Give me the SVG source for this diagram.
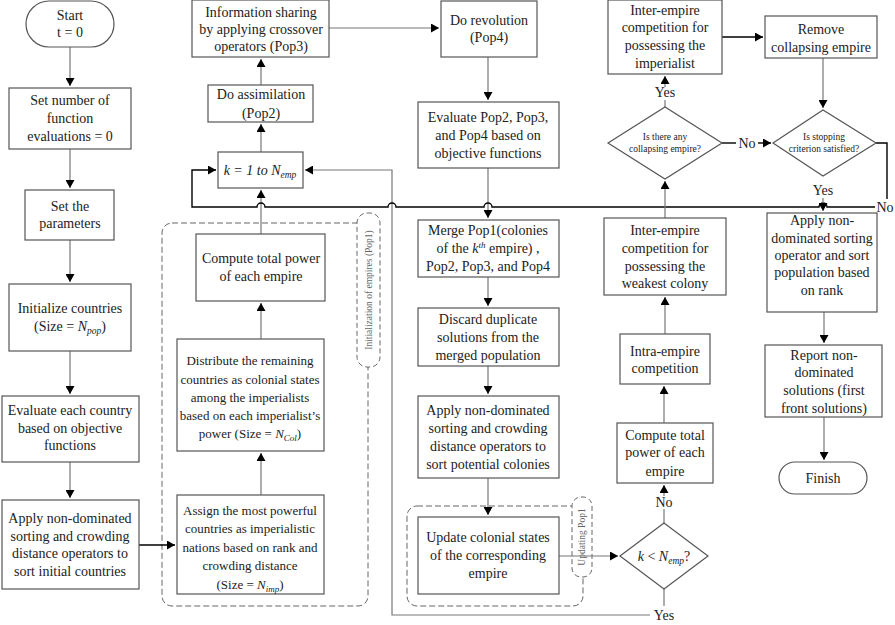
<svg xmlns="http://www.w3.org/2000/svg" width="895" height="625" viewBox="0 0 895 625" font-family="'Liberation Serif', 'Times New Roman', serif">
<defs>
<marker id="ah" markerWidth="9" markerHeight="9" refX="8" refY="4.5" orient="auto" markerUnits="userSpaceOnUse"><path d="M0,0 L8,4.5 L0,9 z" fill="#000"/></marker>
<style>
.b{fill:#fff;stroke:#555;stroke-width:1.2}
text{font-family:'Liberation Serif','Times New Roman',serif}
.t{font-size:14px;text-anchor:middle;fill:#222}
.m{font-size:13px;text-anchor:middle;fill:#222}
.s{font-size:9.5px;text-anchor:middle;fill:#222}
.l{font-size:9.5px;text-anchor:middle;fill:#666}
.c{fill:none;stroke:#777;stroke-width:1.2}
.k{fill:none;stroke:#000;stroke-width:1.4}
.d{fill:none;stroke:#666;stroke-width:1;stroke-dasharray:6,3}
.dl{fill:#fff;stroke:#666;stroke-width:1;stroke-dasharray:5,3}
</style>
</defs>
<rect width="895" height="625" fill="#fff"/>

<g id="groups">
<rect class="d" x="162" y="223" width="206" height="383" rx="10"/>
<rect class="dl" x="357" y="213" width="23" height="154" rx="10"/>
<text class="l" transform="translate(372,290) rotate(-90)">Initialization of empires (Pop1)</text>
<rect class="d" x="407" y="506" width="176" height="100" rx="10"/>
<rect class="dl" x="572" y="497" width="20" height="80" rx="9"/>
<text class="l" transform="translate(585,537) rotate(-90)">Updating Pop1</text>
</g>

<g id="connectors">
<path class="c" d="M70,47 V86" marker-end="url(#ah)"/>
<path class="c" d="M70,149 V188" marker-end="url(#ah)"/>
<path class="c" d="M70,240 V282" marker-end="url(#ah)"/>
<path class="c" d="M70,351 V394" marker-end="url(#ah)"/>
<path class="c" d="M70,462 V498" marker-end="url(#ah)"/>
<path class="k" d="M139,545 H175" marker-end="url(#ah)"/>
<path class="c" d="M261,495 V453" marker-end="url(#ah)"/>
<path class="c" d="M261,339 V303" marker-end="url(#ah)"/>
<path class="c" d="M261,234 V190" marker-end="url(#ah)"/>
<path class="c" d="M261,152 V124" marker-end="url(#ah)"/>
<path class="c" d="M261,85 V59" marker-end="url(#ah)"/>
<path class="c" d="M329,28 H439" marker-end="url(#ah)"/>
<path class="c" d="M488,57 V100" marker-end="url(#ah)"/>
<path class="c" d="M488,168 V218" marker-end="url(#ah)"/>
<path class="c" d="M488,277 V306" marker-end="url(#ah)"/>
<path class="c" d="M488,366 V394" marker-end="url(#ah)"/>
<path class="c" d="M488,478 V515" marker-end="url(#ah)"/>
<path class="c" d="M559,556 H618" marker-end="url(#ah)"/>
<path class="c" d="M664,589 V606"/>
<path class="c" d="M650,615 H392 V170 H305" marker-end="url(#ah)"/>
<path class="c" d="M664,523 V509"/>
<path class="c" d="M664,496 V485" marker-end="url(#ah)"/>
<path class="c" d="M664,423 V386" marker-end="url(#ah)"/>
<path class="c" d="M665,334 V297" marker-end="url(#ah)"/>
<path class="k" d="M875,207 H827 A4,4 0 0 0 819,207 H492 A4,4 0 0 0 484,207 H396 A4,4 0 0 0 388,207 H265 A4,4 0 0 0 257,207 H192 V170 H216" marker-end="url(#ah)"/>
<path class="c" d="M665,218 V181" marker-end="url(#ah)"/>
<path class="c" d="M665,107 V100"/>
<path class="c" d="M665,87 V76" marker-end="url(#ah)"/>
<path class="k" d="M722,37 H763" marker-end="url(#ah)"/>
<path class="k" d="M722,143 H736"/>
<path class="k" d="M758,143 H771" marker-end="url(#ah)"/>
<path class="c" d="M823,58 V108" marker-end="url(#ah)"/>
<path class="k" d="M876,143 H887 V199"/>
<path class="c" d="M823,198 V211" marker-end="url(#ah)"/>
<path class="c" d="M824,312 V343" marker-end="url(#ah)"/>
<path class="c" d="M824,417 V460" marker-end="url(#ah)"/>
</g>

<g id="start">
<rect class="b" x="26" y="1" width="88" height="46" rx="23"/>
<text class="t" x="70" y="20">Start</text>
<text class="t" x="70" y="37">t = 0</text>
</g>
<g id="set-fe">
<rect class="b" x="9" y="88" width="122" height="61"/>
<text class="t" x="70" y="105">Set number of</text>
<text class="t" x="70" y="123">function</text>
<text class="t" x="70" y="141">evaluations = 0</text>
</g>
<g id="set-params">
<rect class="b" x="25" y="190" width="89" height="50"/>
<text class="t" x="70" y="211">Set the</text>
<text class="t" x="70" y="228">parameters</text>
</g>
<g id="init-countries">
<rect class="b" x="9" y="284" width="122" height="67"/>
<text class="t" x="70" y="313">Initialize countries</text>
<text class="t" x="70" y="331">(Size = <tspan font-style="italic">N</tspan><tspan font-style="italic" font-size="9.5" dy="3">pop</tspan><tspan dy="-3">)</tspan></text>
</g>
<g id="evaluate-countries">
<rect class="b" x="2" y="396" width="137" height="66"/>
<text class="t" x="70" y="415">Evaluate each country</text>
<text class="t" x="70" y="433">based on objective</text>
<text class="t" x="70" y="450">functions</text>
</g>
<g id="sort-initial">
<rect class="b" x="2" y="500" width="137" height="89"/>
<text class="t" x="70" y="523">Apply non-dominated</text>
<text class="t" x="70" y="541">sorting and crowding</text>
<text class="t" x="70" y="558">distance operators to</text>
<text class="t" x="70" y="576">sort initial countries</text>
</g>

<g id="assign-imperialists">
<rect class="b" x="177" y="495" width="147" height="99"/>
<text class="m" x="250" y="515">Assign the most powerful</text>
<text class="m" x="250" y="533">countries as imperialistic</text>
<text class="m" x="250" y="552">nations based on rank and</text>
<text class="m" x="250" y="570">crowding distance</text>
<text class="m" x="250" y="589">(Size = <tspan font-style="italic">N</tspan><tspan font-style="italic" font-size="9" dy="3">imp</tspan><tspan dy="-3">)</tspan></text>
</g>
<g id="distribute">
<rect class="b" x="177" y="339" width="147" height="112"/>
<text class="m" x="250" y="365">Distribute the remaining</text>
<text class="m" x="250" y="384">countries as colonial states</text>
<text class="m" x="250" y="402">among the imperialists</text>
<text class="m" x="250" y="420">based on each imperialist’s</text>
<text class="m" x="250" y="438">power (Size = <tspan font-style="italic">N</tspan><tspan font-style="italic" font-size="9" dy="3">Col</tspan><tspan dy="-3">)</tspan></text>
</g>
<g id="compute-power-1">
<rect class="b" x="196" y="234" width="129" height="67"/>
<text class="t" x="261" y="263">Compute total power</text>
<text class="t" x="261" y="281">of each empire</text>
</g>
<g id="k-loop">
<rect class="b" x="218" y="152" width="85" height="36"/>
<text class="t" x="260" y="175" font-style="italic">k = 1 to N<tspan font-size="9.5" dy="3">emp</tspan></text>
</g>
<g id="assimilation">
<rect class="b" x="208" y="85" width="105" height="37"/>
<text class="t" x="261" y="99">Do assimilation</text>
<text class="t" x="261" y="118">(Pop2)</text>
</g>
<g id="info-sharing">
<rect class="b" x="192" y="0" width="137" height="57"/>
<text class="t" x="261" y="17">Information sharing</text>
<text class="t" x="261" y="34">by applying crossover</text>
<text class="t" x="261" y="51">operators (Pop3)</text>
</g>

<g id="revolution">
<rect class="b" x="441" y="1" width="96" height="56"/>
<text class="t" x="489" y="25">Do revolution</text>
<text class="t" x="489" y="42">(Pop4)</text>
</g>
<g id="evaluate-pops">
<rect class="b" x="418" y="102" width="141" height="66"/>
<text class="t" x="488" y="122">Evaluate Pop2, Pop3,</text>
<text class="t" x="488" y="140">and Pop4 based on</text>
<text class="t" x="488" y="158">objective functions</text>
</g>
<g id="merge">
<rect class="b" x="418" y="220" width="141" height="57"/>
<text class="t" x="488" y="235">Merge Pop1(colonies</text>
<text class="t" x="488" y="253">of the <tspan font-style="italic">k</tspan><tspan font-style="italic" font-size="9" dy="-5">th</tspan><tspan dy="5"> empire) ,</tspan></text>
<text class="t" x="488" y="271">Pop2, Pop3, and Pop4</text>
</g>
<g id="discard">
<rect class="b" x="418" y="308" width="141" height="58"/>
<text class="t" x="488" y="324">Discard duplicate</text>
<text class="t" x="488" y="342">solutions from the</text>
<text class="t" x="488" y="360">merged population</text>
</g>
<g id="sort-colonies">
<rect class="b" x="418" y="396" width="141" height="82"/>
<text class="t" x="488" y="415">Apply non-dominated</text>
<text class="t" x="488" y="433">sorting and crowding</text>
<text class="t" x="488" y="451">distance operators to</text>
<text class="t" x="488" y="469">sort potential colonies</text>
</g>
<g id="update-colonial">
<rect class="b" x="418" y="517" width="141" height="77"/>
<text class="t" x="488" y="542">Update colonial states</text>
<text class="t" x="488" y="560">of the corresponding</text>
<text class="t" x="488" y="578">empire</text>
</g>

<g id="k-check">
<polygon class="b" points="620,556 664,523 708,556 664,589"/>
<text class="t" x="664" y="561"><tspan font-style="italic">k</tspan> &lt; <tspan font-style="italic">N</tspan><tspan font-style="italic" font-size="9.5" dy="3">emp</tspan><tspan dy="-3">?</tspan></text>
<text class="t" x="664" y="620">Yes</text>
<text class="t" x="664" y="507">No</text>
</g>
<g id="compute-power-2">
<rect class="b" x="617" y="423" width="96" height="60"/>
<text class="t" x="665" y="440">Compute total</text>
<text class="t" x="665" y="457">power of each</text>
<text class="t" x="665" y="476">empire</text>
</g>
<g id="intra-empire">
<rect class="b" x="620" y="334" width="90" height="50"/>
<text class="t" x="665" y="356">Intra-empire</text>
<text class="t" x="665" y="373">competition</text>
</g>
<g id="inter-weakest">
<rect class="b" x="604" y="218" width="122" height="77"/>
<text class="t" x="665" y="235">Inter-empire</text>
<text class="t" x="665" y="253">competition for</text>
<text class="t" x="665" y="271">possessing the</text>
<text class="t" x="665" y="288">weakest colony</text>
</g>
<g id="collapsing-check">
<polygon class="b" points="608,143 665,107 722,143 665,179"/>
<text class="s" x="665" y="140">Is there any</text>
<text class="s" x="665" y="152">collapsing empire?</text>
<text class="t" x="665" y="97">Yes</text>
<text class="t" x="747" y="148">No</text>
</g>
<g id="inter-imperialist">
<rect class="b" x="608" y="0" width="114" height="74"/>
<text class="t" x="665" y="15">Inter-empire</text>
<text class="t" x="665" y="32">competition for</text>
<text class="t" x="665" y="50">possessing the</text>
<text class="t" x="665" y="68">imperialist</text>
</g>
<g id="remove">
<rect class="b" x="765" y="16" width="112" height="42"/>
<text class="t" x="821" y="34">Remove</text>
<text class="t" x="821" y="52">collapsing empire</text>
</g>
<g id="stop-check">
<polygon class="b" points="773,143 823,110 876,143 823,176"/>
<text class="s" x="824" y="140">Is stopping</text>
<text class="s" x="824" y="152">criterion satisfied?</text>
<text class="t" x="823" y="195">Yes</text>
<text class="t" x="885" y="212">No</text>
</g>
<g id="final-sort">
<rect class="b" x="767" y="213" width="110" height="99"/>
<text class="t" x="822" y="225">Apply non-</text>
<text class="t" x="822" y="243">dominated sorting</text>
<text class="t" x="822" y="260">operator and sort</text>
<text class="t" x="822" y="277">population based</text>
<text class="t" x="822" y="295">on rank</text>
</g>
<g id="report">
<rect class="b" x="765" y="345" width="117" height="72"/>
<text class="t" x="824" y="360">Report non-</text>
<text class="t" x="824" y="377">dominated</text>
<text class="t" x="824" y="395">solutions (first</text>
<text class="t" x="824" y="413">front solutions)</text>
</g>
<g id="finish">
<rect class="b" x="779" y="462" width="88" height="32" rx="16"/>
<text class="t" x="823" y="483">Finish</text>
</g>
</svg>
